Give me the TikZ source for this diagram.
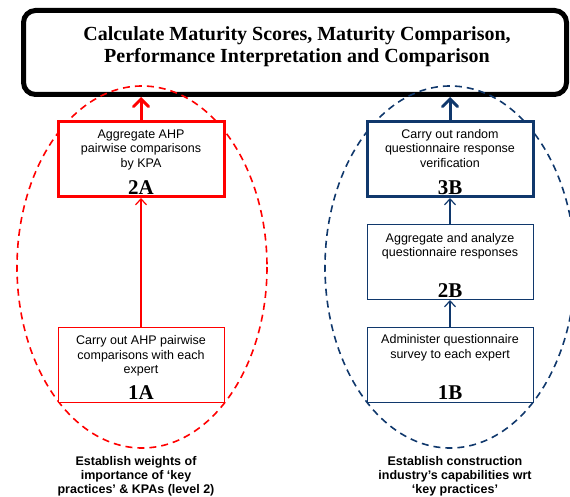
\documentclass[tikz,border=0pt]{standalone}
\usepackage{fontspec}
\setmainfont{Liberation Serif}
\setsansfont{Liberation Sans}
\usetikzlibrary{arrows.meta,calc}
\definecolor{kred}{RGB}{255,0,0}
\definecolor{knavy}{RGB}{16,56,108}

\begin{document}
\begin{tikzpicture}[x=1pt,y=-1pt,
  stagebox/.style={draw, fill=white, rectangle, minimum width=166pt, minimum height=75pt, inner sep=0pt},
  thickbox/.style={stagebox, line width=3pt},
  thinbox/.style={stagebox, line width=1pt},
  boxtext/.style={anchor=north, inner sep=0pt, align=center, font=\sffamily\fontsize{12.5}{14.5}\selectfont},
  stepnum/.style={anchor=base, inner sep=0pt, font=\bfseries\fontsize{21}{24}\selectfont},
  phase/.style={draw, dash pattern=on 7pt off 5pt, line width=1.6pt},
  caption/.style={anchor=north, inner sep=0pt, align=center, font=\sffamily\bfseries\fontsize{12.5}{14}\selectfont},
  bigarrow/.style={line width=3pt, -{Straight Barb[length=7.5pt,width=15pt,line cap=round]}},
  smallarrow/.style={line width=1.2pt, -{Straight Barb[length=6pt,width=11pt]}}
]
\useasboundingbox (0,0) rectangle (570,497);

% final stage
\node[draw, line width=5pt, rounded corners=12pt, minimum width=543pt, minimum height=84pt, inner sep=0pt] (final) at (295,52.5) {};
\node[anchor=north, inner sep=0pt, align=center, font=\bfseries\fontsize{20}{22}\selectfont] (finaltext) at (297,26) {Calculate Maturity Scores, Maturity Comparison,\\Performance Interpretation and Comparison};

% the two phases
\draw[phase, kred] (142,267) ellipse [x radius=125, y radius=181];
\draw[phase, knavy] (450,267) ellipse [x radius=125, y radius=181];

% phase A
\node[thickbox, draw=kred] (a2) at (141,159) {};
\node[boxtext] (a2t) at ($(a2.north)+(0,9.5)$) {Aggregate AHP\\pairwise comparisons\\by KPA};
\node[stepnum] (a2n) at ($(a2.south)+(0,-3.5)$) {2A};

\node[thinbox, draw=kred] (a1) at (141,364.5) {};
\node[boxtext] (a1t) at ($(a1.north)+(0,9)$) {Carry out AHP pairwise\\comparisons with each\\expert};
\node[stepnum] (a1n) at ($(a1.south)+(0,-3)$) {1A};

% phase B
\node[thickbox, draw=knavy] (b3) at (450,159) {};
\node[boxtext] (b3t) at ($(b3.north)+(0,9)$) {Carry out random\\questionnaire response\\verification};
\node[stepnum] (b3n) at ($(b3.south)+(0,-3.5)$) {3B};

\node[thinbox, draw=knavy] (b2) at (450,262) {};
\node[boxtext] (b2t) at ($(b2.north)+(0,9)$) {Aggregate and analyze\\questionnaire responses};
\node[stepnum] (b2n) at ($(b2.south)+(0,-3)$) {2B};

\node[thinbox, draw=knavy] (b1) at (450,364.5) {};
\node[boxtext] (b1t) at ($(b1.north)+(0,8)$) {Administer questionnaire\\survey to each expert};
\node[stepnum] (b1n) at ($(b1.south)+(0,-3)$) {1B};

% connectors
\draw[bigarrow, kred] (a2.north) -- (a2.north |- final.south);
\draw[smallarrow, kred] (a1.north) -- (a2.south);
\draw[bigarrow, knavy] (b3.north) -- (b3.north |- final.south);
\draw[smallarrow, knavy] (b2.north) -- (b3.south);
\draw[smallarrow, knavy] (b1.north) -- (b2.south);

% captions
\node[caption] (capa) at (136,456) {Establish weights of\\importance of ‘key\\practices’ \& KPAs (level 2)};
\node[caption] (capb) at (455,456) {Establish construction\\industry’s capabilities wrt\\‘key practices’};
\end{tikzpicture}
\end{document}
